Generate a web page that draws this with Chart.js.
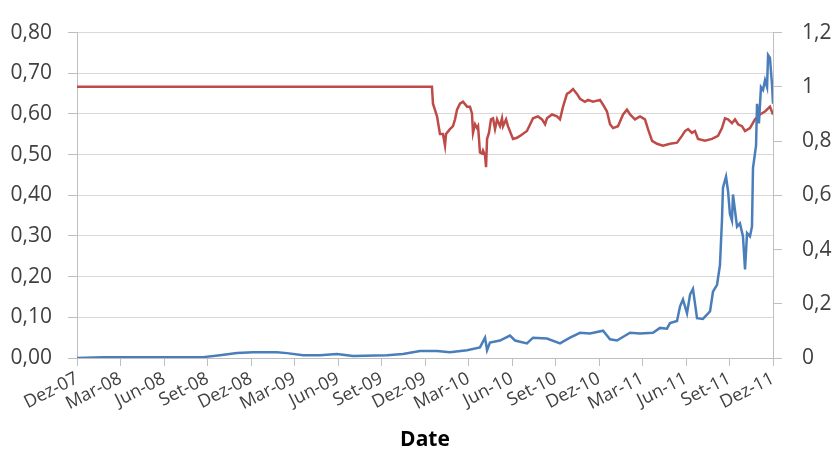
<!DOCTYPE html>
<html>
<head>
<meta charset="utf-8">
<script src="https://cdn.jsdelivr.net/npm/chart.js@4.4.1/dist/chart.umd.min.js"></script>
<style>
  html, body { margin: 0; padding: 0; background: #ffffff; }
  #wrap { width: 833px; height: 457px; position: relative; }
</style>
</head>
<body>
<div id="wrap"><canvas id="c" width="833" height="457"></canvas></div>
<script>
// Tick labels on the x axis (one every 3 months, starting Dez-07)
const tickLabels = ['Dez-07','Mar-08','Jun-08','Set-08','Dez-08','Mar-09','Jun-09','Set-09','Dez-09','Mar-10','Jun-10','Set-10','Dez-10','Mar-11','Jun-11','Set-11','Dez-11'];

// Left axis series (blue): x = months since Dez-07
const blueMonths = [0,1.79,2.97,8.69,9.86,11.03,12.14,13.79,14.48,15.59,16.76,17.93,19.03,21.38,22.48,23.66,24.83,25.72,26.90,27.79,28.14,28.28,28.48,29.17,29.86,30.21,31.03,31.45,32.41,33.31,34.00,34.69,35.38,36.28,36.76,37.24,38.14,38.83,39.72,40.21,40.69,40.90,41.38,41.59,41.79,42.07,42.28,42.48,42.76,43.17,43.66,43.86,44.14,44.34,44.48,44.55,44.76,44.90,45.03,45.17,45.24,45.38,45.52,45.72,45.93,46.07,46.21,46.41,46.55,46.62,46.83,46.90,47.03,47.17,47.31,47.45,47.59,47.66,47.79,47.93,48.00];
const blueValues = [0.000,0.002,0.002,0.002,0.007,0.012,0.014,0.014,0.012,0.007,0.007,0.010,0.005,0.007,0.010,0.017,0.017,0.014,0.019,0.026,0.050,0.019,0.038,0.043,0.055,0.043,0.036,0.050,0.048,0.036,0.050,0.062,0.060,0.067,0.046,0.043,0.062,0.060,0.062,0.074,0.072,0.086,0.091,0.127,0.144,0.110,0.156,0.170,0.098,0.096,0.115,0.163,0.180,0.228,0.338,0.419,0.446,0.410,0.354,0.338,0.402,0.362,0.323,0.331,0.299,0.218,0.307,0.299,0.323,0.467,0.522,0.625,0.577,0.666,0.659,0.683,0.666,0.745,0.738,0.673,0.625];

// Right axis series (red)
const redMonths = [0,24.48,24.55,24.83,25.03,25.24,25.38,25.45,25.72,25.93,26.07,26.21,26.41,26.62,26.90,27.10,27.24,27.31,27.45,27.59,27.66,27.79,27.93,28.00,28.14,28.21,28.28,28.41,28.55,28.69,28.83,28.97,29.17,29.31,29.38,29.59,29.72,30.07,30.34,
  30.55,31.03,31.45,31.79,32.07,32.28,32.41,32.76,33.10,33.31,33.52,33.79,34.00,34.21,34.48,34.69,35.03,35.24,35.59,36.07,36.28,36.55,36.76,36.97,37.31,37.66,37.93,38.14,38.48,38.83,39.17,39.38,39.66,40.00,40.41,40.90,41.38,41.72,41.93,42.14,42.41,42.62,42.83,43.31,43.79,44.21,44.48,44.69,44.90,45.17,45.38,45.59,45.86,46.07,46.41,46.76,47.10,47.45,47.79,48.00];
const redValues = [1.000,1.000,0.938,0.891,0.826,0.826,0.783,0.826,0.844,0.855,0.880,0.916,0.938,0.945,0.927,0.927,0.902,0.830,0.862,0.848,0.855,0.758,0.754,0.765,0.747,0.704,0.808,0.830,0.880,0.884,0.844,0.880,0.855,0.884,0.855,0.880,0.855,0.808,0.812,
  0.819,0.837,0.884,0.891,0.880,0.862,0.884,0.898,0.891,0.880,0.927,0.974,0.981,0.992,0.974,0.956,0.945,0.952,0.945,0.952,0.934,0.909,0.862,0.848,0.855,0.898,0.916,0.898,0.880,0.891,0.880,0.844,0.801,0.790,0.783,0.790,0.794,0.819,0.837,0.844,0.830,0.837,0.808,0.801,0.808,0.819,0.848,0.884,0.880,0.866,0.880,0.862,0.855,0.837,0.848,0.880,0.898,0.909,0.927,0.898];

const toPoints = (xs, ys) => xs.map((x, i) => ({ x: x, y: ys[i] }));
const fmt = v => String(Math.round(v * 100) / 100).replace('.', ',');

const textColor = '#404040';
const gridColor = '#d9d9d9';
const axisColor = '#bfbfbf';

new Chart(document.getElementById('c'), {
  type: 'line',
  data: {
    datasets: [
      {
        label: 'blue',
        data: toPoints(blueMonths, blueValues),
        borderColor: '#4a7ebb',
        borderWidth: 2.5,
        pointRadius: 0,
        tension: 0,
        yAxisID: 'y'
      },
      {
        label: 'red',
        data: toPoints(redMonths, redValues),
        borderColor: '#be4b48',
        borderWidth: 2.5,
        pointRadius: 0,
        tension: 0,
        yAxisID: 'y1'
      }
    ]
  },
  options: {
    responsive: false,
    animation: false,
    layout: { padding: { top: 24, bottom: 0, left: 0, right: 0 } },
    plugins: { legend: { display: false }, tooltip: { enabled: false } },
    scales: {
      x: {
        type: 'linear',
        min: 0,
        max: 48,
        afterFit: s => { s.height = 99; },
        afterBuildTicks: s => { s.ticks = tickLabels.map((_, i) => ({ value: i * 3 })); },
        ticks: {
          autoSkip: false,
          minRotation: 27,
          maxRotation: 27,
          padding: 2,
          color: textColor,
          font: { family: 'Open Sans', size: 18 },
          callback: v => tickLabels[Math.round(v / 3)]
        },
        grid: { display: true, drawOnChartArea: false, drawTicks: true, tickLength: 8, color: axisColor },
        border: { display: true, color: axisColor },
        title: {
          display: true,
          text: 'Date',
          color: '#000000',
          font: { family: 'Open Sans', size: 21, weight: 'bold' },
          padding: { top: 4, bottom: 4 }
        }
      },
      y: {
        position: 'left',
        min: 0,
        max: 0.8,
        afterFit: s => { s.width = 77; },
        ticks: {
          stepSize: 0.1,
          padding: 16,
          color: textColor,
          font: { family: 'Open Sans', size: 21 },
          callback: v => (Math.round(v * 100) / 100).toFixed(2).replace('.', ',')
        },
        grid: { color: gridColor, tickLength: 9, tickColor: axisColor },
        border: { display: true, color: axisColor }
      },
      y1: {
        position: 'right',
        min: 0,
        max: 1.2,
        afterFit: s => { s.width = 60; },
        ticks: {
          stepSize: 0.2,
          padding: 20,
          color: textColor,
          font: { family: 'Open Sans', size: 21 },
          callback: v => fmt(v)
        },
        grid: { drawOnChartArea: false, tickLength: 9, color: axisColor },
        border: { display: true, color: axisColor }
      }
    }
  }
});
</script>
</body>
</html>
